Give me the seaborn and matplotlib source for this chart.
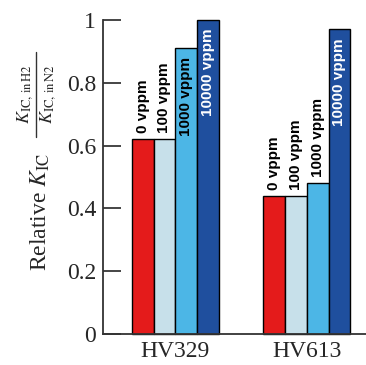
import matplotlib
matplotlib.use("Agg")
import matplotlib.pyplot as plt
from matplotlib.lines import Line2D
import seaborn as sns
import pandas as pd

groups = ["HV329", "HV613"]
concentrations = ["0 vppm", "100 vppm", "1000 vppm", "10000 vppm"]
hv329_values = [0.62, 0.62, 0.91, 1.0]
hv613_values = [0.44, 0.44, 0.48, 0.97]
yticks = [0, 0.2, 0.4, 0.6, 0.8, 1]
ytick_labels = ["0", "0.2", "0.4", "0.6", "0.8", "1"]

palette = ["#e41b1b", "#c7e0ea", "#4cb6e6", "#1f4f9e"]

rows = []
for g, vals in zip(groups, [hv329_values, hv613_values]):
    for c, v in zip(concentrations, vals):
        rows.append({"group": g, "conc": c, "value": v})
df = pd.DataFrame(rows)

sns.set_style("ticks")
plt.rcParams["mathtext.fontset"] = "stix"

W, H = 366, 365
fig = plt.figure(figsize=(W / 100, H / 100), dpi=100)
ax = fig.add_axes([103 / W, (H - 334) / H, (W - 103) / W, 314 / H])

sns.barplot(data=df, x="group", y="value", hue="conc", order=groups,
            hue_order=concentrations, palette=palette, width=0.66, gap=0,
            edgecolor="black", linewidth=1.0, saturation=1, legend=False, ax=ax)

for p in ax.patches:
    p.set_clip_on(False)

# label placement per group/hue: 'above' or 'inside'
modes = {
    "HV329": ["above", "above", "inside", "inside"],
    "HV613": ["above", "above", "above", "inside"],
}
for hi, cont in enumerate(ax.containers):
    for gi, bar in enumerate(cont):
        g = groups[gi]
        mode = modes[g][hi]
        x = bar.get_x() + bar.get_width() / 2
        h = bar.get_height()
        color = "white" if hi == 3 else "black"
        if mode == "above":
            ax.text(x, h + 0.02, concentrations[hi], rotation=90, ha="center",
                    va="bottom", fontsize=11, fontweight="bold", color=color,
                    family="Liberation Sans")
        else:
            ax.text(x, h - 0.028, concentrations[hi], rotation=90, ha="center",
                    va="top", fontsize=11, fontweight="bold", color=color,
                    family="Liberation Sans")

ax.set_ylim(0, 1)
ax.set_xlim(-0.55, 1.45)
ax.set_yticks(yticks)
ax.set_yticklabels(ytick_labels, family="Liberation Serif", fontsize=17)
ax.set_xticklabels(groups, family="Liberation Serif", fontsize=17)
ax.tick_params(axis="y", direction="in", length=13, width=1.2, pad=5)
ax.tick_params(axis="x", length=0, pad=5)
ax.set_xlabel("")
ax.set_ylabel("")
sns.despine(ax=ax, top=True, right=True)
for s in ["left", "bottom"]:
    ax.spines[s].set_linewidth(1.3)
    ax.spines[s].set_color("#333333")

# y-axis label built from pieces
fig.text(40 / W, 1 - 212 / H, r"Relative $K_{\mathrm{IC}}$", rotation=90,
         ha="center", va="center", family="Liberation Serif", fontsize=17)
fig.text(25 / W, 1 - 94 / H, r"$K_{\mathrm{IC,\,in\,H2}}$", rotation=90,
         ha="center", va="center", fontsize=13)
fig.text(48 / W, 1 - 94 / H, r"$K_{\mathrm{IC,\,in\,N2}}$", rotation=90,
         ha="center", va="center", fontsize=13)
fig.add_artist(Line2D([36 / W, 36 / W], [1 - 52 / H, 1 - 137 / H],
                      transform=fig.transFigure, color="#333333", lw=1.0))

fig.savefig("out.png", dpi=100)
